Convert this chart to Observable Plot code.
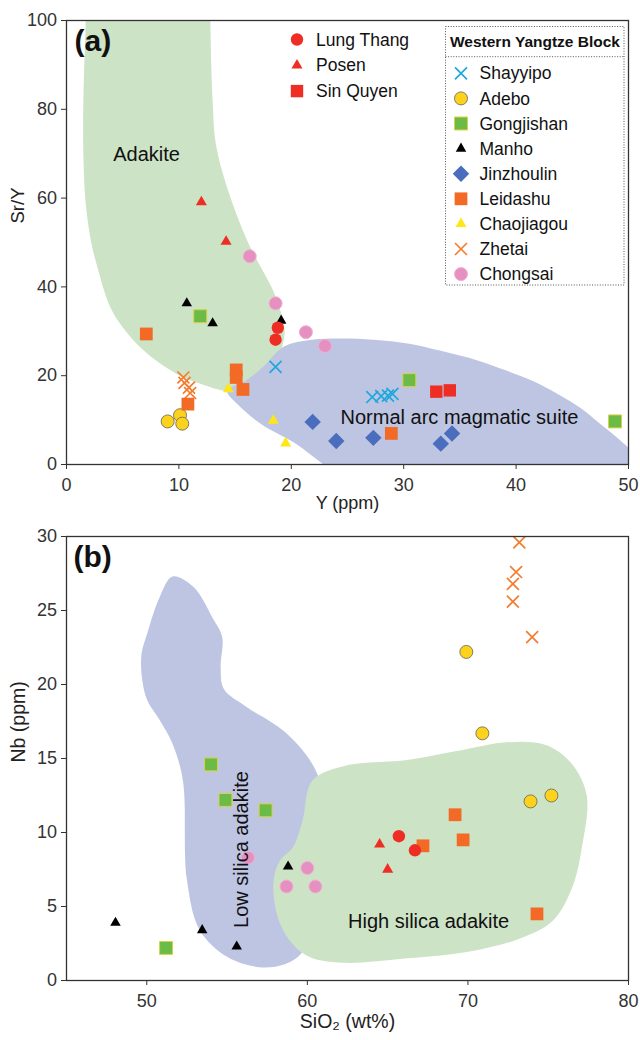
<!DOCTYPE html>
<html><head><meta charset="utf-8">
<script src="https://cdn.jsdelivr.net/npm/d3@7"></script>
<script src="https://cdn.jsdelivr.net/npm/@observablehq/plot@0.6"></script>
<style>
body{margin:0;background:#fff;}
#chart{width:640px;}
#chart svg{display:block;}
</style></head><body><div id="chart"></div>
<script>
// ---------- Panel (a): Y (ppm) vs Sr/Y ----------
const a_LungThang = [[18.8,30.8],[18.6,28.1]];
const a_Posen = [[12.0,59.1],[14.2,50.2]];
const a_SinQuyen = [[32.9,16.4],[34.1,16.7]];
const a_Shayyipo = [[18.6,22.0],[27.2,15.2],[28.0,15.4],[28.6,15.5],[29.0,15.9]];
const a_Adebo = [[9.0,9.7],[10.1,11.1],[10.3,9.2]];
const a_Gongjishan = [[11.9,33.4],[30.5,19.0],[48.8,9.7]];
const a_Manho = [[10.7,36.3],[13.0,31.8],[19.1,32.4]];
const a_Jinzhoulin = [[21.9,9.6],[24.0,5.3],[27.3,6.0],[33.3,4.7],[34.3,7.0]];
const a_Leidashu = [[7.1,29.4],[15.1,21.3],[15.1,19.6],[15.7,16.9],[10.8,13.6],[28.9,7.0]];
const a_Chaojiagou = [[14.4,17.0],[18.4,9.9],[19.5,4.8]];
const a_Zhetai = [[10.4,19.6],[10.5,18.4],[10.9,17.3],[11.0,16.1]];
const a_Chongsai = [[16.3,46.9],[18.6,36.3],[21.3,29.8],[23.0,26.7]];

// ---------- Panel (b): SiO2 (wt%) vs Nb (ppm) ----------
const b_LungThang = [[65.7,9.75],[66.7,8.8]];
const b_Posen = [[64.5,9.2],[65.0,7.5]];
const b_Adebo = [[69.9,22.2],[70.9,16.7],[73.9,12.1],[75.2,12.5]];
const b_Gongjishan = [[54.0,14.6],[54.9,12.2],[57.4,11.5],[51.2,2.2]];
const b_Manho = [[48.05,3.9],[53.45,3.4],[55.6,2.3],[58.8,7.7]];
const b_Leidashu = [[69.2,11.2],[69.7,9.5],[67.2,9.1],[74.3,4.5]];
const b_Zhetai = [[73.2,29.6],[73.0,27.6],[72.8,26.8],[72.8,25.6],[74.0,23.2]];
const b_Chongsai = [[56.3,8.3],[60.0,7.6],[58.7,6.35],[60.5,6.35]];

// ---------- Field outlines ----------
const a_adakiteField = [[1.7,110],[1.7,100],[1.5,82],[1.5,70],[1.7,59],[2.2,50],[2.8,44],[3.8,36],[4.8,31.6],[6.9,25.6],[9.8,20.4],[11.9,18.2],[14.3,16.6],[15.5,17.4],[17.3,19.6],[18.7,23.4],[19.4,29.4],[19.2,33.1],[18.4,39.1],[17.0,45.8],[16.1,50.3],[14.3,62.3],[13.3,72],[13.0,82],[12.8,100],[12.8,110]];
const a_arcField = [[14.3,16.6],[16.0,19.0],[17.5,22.0],[19.3,26.5],[21.5,28.0],[24.4,28.4],[27.3,28.1],[30.5,27.2],[33.3,25.6],[36.5,23.5],[39.2,21.1],[41.5,18.8],[43.7,15.9],[45.8,12.6],[47.5,9.1],[49.0,6.0],[50.5,2.0],[50.5,-2],[24,-2],[22.6,0.5],[20.5,4.5],[17.3,9.1],[15.2,13.6]];
const b_lowSilicaField = [[51.6,27.3],[52.9,26.6],[54.1,24.5],[54.7,23.2],[54.6,21.2],[54.8,19.7],[56.2,18.5],[58.7,16.7],[60.6,14.0],[61.2,10],[60.5,4],[59.6,1.8],[58.6,1.1],[57,0.9],[55,1.6],[53.3,3.4],[52.5,6.8],[52.25,13.5],[51.6,16.0],[50.8,17.6],[49.97,19.1],[49.65,21.8],[50.07,23.6],[50.8,25.9]];
const b_highSilicaField = [[60.3,13.5],[62.3,14.5],[66.2,14.9],[69.3,15.5],[72.4,16.1],[74.9,15.9],[76.5,14.6],[77.4,12.5],[77.1,9.0],[76.5,6.3],[75.3,4.05],[73.4,2.9],[70.3,2.0],[66.2,1.5],[62.2,1.2],[60.1,1.6],[58.9,2.7],[58.1,4.5],[57.9,6.8],[58.3,8.1],[59.1,9.0],[59.7,10.8]];

// ---------- Labels ----------
const a_fieldLabels = [{x:7.13,y:69.8,text:"Adakite"},{x:34.96,y:10.6,text:"Normal arc magmatic suite"}];
const b_fieldLabelsFlat = [{x:67.55,y:4.0,text:"High silica adakite"}];
const b_fieldLabelsRot = [{x:55.9,y:8.85,text:"Low silica adakite"}];
const a_xTicks = [0,10,20,30,40,50];
const a_yTicks = [0,20,40,60,80,100];
const b_xTicks = [50,60,70,80];
const b_yTicks = [0,5,10,15,20,25,30];
const leftLegend = ["Lung Thang","Posen","Sin Quyen"];
const rightLegendTitle = "Western Yangtze Block";
const rightLegend = ["Shayyipo","Adebo","Gongjishan","Manho","Jinzhoulin","Leidashu","Chaojiagou","Zhetai","Chongsai"];

// ---------- Styles ----------
const STYLE = {
  "Lung Thang": {symbol:"circle", fill:"#ee2e24", stroke:"none", sw:0, r:6.2},
  "Posen": {symbol:"triangle", fill:"#ee2e24", stroke:"none", sw:0, r:4.1},
  "Sin Quyen": {symbol:"square", fill:"#ee2e24", stroke:"none", sw:0, r:7.0},
  "Shayyipo": {symbol:"times", fill:"none", stroke:"#1ea8dc", sw:1.7, r:5.5},
  "Adebo": {symbol:"circle", fill:"#fdd21c", stroke:"#76705a", sw:0.9, r:6.5},
  "Gongjishan": {symbol:"square", fill:"#6cbb46", stroke:"#d8d244", sw:1, r:7.3},
  "Manho": {symbol:"triangle", fill:"#000000", stroke:"none", sw:0, r:3.9},
  "Jinzhoulin": {symbol:"diamond2", fill:"#4a6ebd", stroke:"none", sw:0, r:7.4},
  "Leidashu": {symbol:"square", fill:"#f26a26", stroke:"none", sw:0, r:7.2},
  "Chaojiagou": {symbol:"triangle", fill:"#ffe619", stroke:"none", sw:0, r:4.1},
  "Zhetai": {symbol:"times", fill:"none", stroke:"#f37d2e", sw:1.7, r:5.5},
  "Chongsai": {symbol:"circle", fill:"#e590c0", stroke:"#f1b0cf", sw:1, r:6.5}
};
const FONT = "'Liberation Sans', Arial, Helvetica, sans-serif";
const drawOrder = ["Zhetai","Chongsai","Manho","Adebo","Gongjishan","Jinzhoulin","Leidashu","Chaojiagou","Shayyipo","Lung Thang","Posen","Sin Quyen"];

function seriesMarks(map) {
  return drawOrder.filter(n => map[n]).map(n => {
    const s = STYLE[n];
    return Plot.dot(map[n], {x: d => d[0], y: d => d[1], symbol: s.symbol, r: s.r,
      fill: s.fill, stroke: s.stroke, strokeWidth: s.sw});
  });
}
function field(pts, color) {
  return Plot.line(pts, {x: d => d[0], y: d => d[1], curve: "catmull-rom-closed", fill: color, stroke: "none", clip: true});
}
const GREEN = "#cde3c6", BLUE = "#bdc5e3";
const common = {width: 640, marginLeft: 66, marginRight: 12,
  style: {fontFamily: FONT, fontSize: "18px", color: "#333", background: "#fff"}};

const plotA = Plot.plot({
  ...common, height: 518, marginTop: 20, marginBottom: 54,
  x: {domain: [0, 50], ticks: a_xTicks, tickSize: 5, tickPadding: 9, label: null},
  y: {domain: [0, 100], ticks: a_yTicks, tickSize: 5, tickPadding: 4.5, label: null},
  marks: [
    field(a_adakiteField, GREEN),
    field(a_arcField, BLUE),
    ...seriesMarks({"Lung Thang": a_LungThang, "Posen": a_Posen, "Sin Quyen": a_SinQuyen, "Shayyipo": a_Shayyipo,
      "Adebo": a_Adebo, "Gongjishan": a_Gongjishan, "Manho": a_Manho, "Jinzhoulin": a_Jinzhoulin,
      "Leidashu": a_Leidashu, "Chaojiagou": a_Chaojiagou, "Zhetai": a_Zhetai, "Chongsai": a_Chongsai}),
    Plot.text(a_fieldLabels, {x: "x", y: "y", text: "text", fontSize: 20, fill: "#111"}),
    Plot.text(["(a)"], {frameAnchor: "top-left", text: d => d, dx: 8, dy: 9, lineAnchor: "top", fontSize: 30, fontWeight: "bold", fill: "#111"}),
    Plot.text(["Sr/Y"], {frameAnchor: "left", text: d => d, rotate: -90, dx: -48, dy: -19, fontSize: 18.5, fill: "#222"}),
    Plot.text(["Y (ppm)"], {frameAnchor: "bottom", text: d => d, dy: 44, fontSize: 18, fill: "#222"}),
    Plot.frame({stroke: "#333", strokeWidth: 1.3})
  ]
});

const plotB = Plot.plot({
  ...common, height: 522, marginTop: 18, marginBottom: 60,
  x: {domain: [45, 80], ticks: b_xTicks, tickSize: 5, tickPadding: 9, label: null},
  y: {domain: [0, 30], ticks: b_yTicks, tickSize: 5, tickPadding: 4.5, label: null},
  marks: [
    field(b_lowSilicaField, BLUE),
    field(b_highSilicaField, GREEN),
    ...seriesMarks({"Lung Thang": b_LungThang, "Posen": b_Posen, "Adebo": b_Adebo, "Gongjishan": b_Gongjishan,
      "Manho": b_Manho, "Leidashu": b_Leidashu, "Zhetai": b_Zhetai, "Chongsai": b_Chongsai}),
    Plot.text(b_fieldLabelsFlat, {x: "x", y: "y", text: "text", fontSize: 20, fill: "#111"}),
    Plot.text(b_fieldLabelsRot, {x: "x", y: "y", text: "text", rotate: -90, fontSize: 20, fill: "#111"}),
    Plot.text(["(b)"], {frameAnchor: "top-left", text: d => d, dx: 7, dy: 9, lineAnchor: "top", fontSize: 30, fontWeight: "bold", fill: "#111"}),
    Plot.text(["Nb (ppm)"], {frameAnchor: "left", text: d => d, rotate: -90, dx: -48, dy: 4, fontSize: 19.5, fill: "#222"}),
    Plot.text(["SiO\u2082 (wt%)"], {frameAnchor: "bottom", text: d => d, dy: 47, fontSize: 19.5, fill: "#222"}),
    Plot.frame({stroke: "#333", strokeWidth: 1.3})
  ]
});

// ---------- Legends drawn into panel (a) ----------
const symbolTypes = {circle: d3.symbolCircle, triangle: d3.symbolTriangle, square: d3.symbolSquare, diamond2: d3.symbolDiamond2, times: d3.symbolTimes};
const lg = d3.select(plotA).append("g").attr("font-family", FONT).attr("fill", "#111").attr("text-anchor", "start");
function legendRow(name, sx, tx, y) {
  const s = STYLE[name];
  lg.append("path").attr("d", d3.symbol(symbolTypes[s.symbol], Math.PI * s.r * s.r)())
    .attr("transform", `translate(${sx},${y})`).attr("fill", s.fill).attr("stroke", s.stroke).attr("stroke-width", s.sw);
  lg.append("text").attr("x", tx).attr("y", y).attr("dy", "0.35em").attr("font-size", 17.5)
    .attr("text-anchor", "start").text(name);
}
leftLegend.forEach((n, i) => legendRow(n, 297, 316, 39.5 + i * 25.8));
lg.append("rect").attr("x", 445.5).attr("y", 26.5).attr("width", 178.5).attr("height", 258.5)
  .attr("fill", "none").attr("stroke", "#555").attr("stroke-width", 1).attr("stroke-dasharray", "1,1.6");
lg.append("line").attr("x1", 445.5).attr("x2", 624).attr("y1", 56.7).attr("y2", 56.7)
  .attr("stroke", "#555").attr("stroke-width", 1).attr("stroke-dasharray", "1,1.6");
lg.append("text").attr("x", 450).attr("y", 41.5).attr("dy", "0.35em").attr("font-size", 15.5)
  .attr("font-weight", "bold").attr("text-anchor", "start").text(rightLegendTitle);
rightLegend.forEach((n, i) => legendRow(n, 461, 479.5, 73.3 + i * 25.1));

document.getElementById("chart").append(plotA, plotB);
</script></body></html>
